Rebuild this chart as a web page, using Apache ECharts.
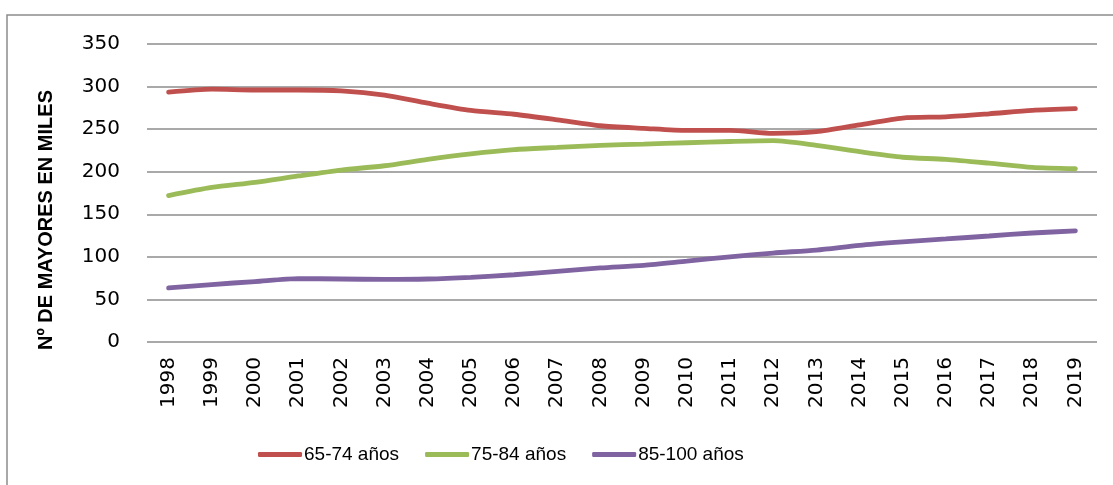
<!DOCTYPE html>
<html>
<head>
<meta charset="utf-8">
<script src="https://cdn.jsdelivr.net/npm/echarts@6/dist/echarts.min.js"></script>
<style>
  html, body { margin: 0; padding: 0; background: #fff; }
  #chart { width: 1113px; height: 485px; }
</style>
</head>
<body>
<div id="chart"></div>
<script>
// values (thousands of people)
const years = ['1998', '1999', '2000', '2001', '2002', '2003', '2004', '2005', '2006', '2007', '2008',
  '2009', '2010', '2011', '2012', '2013', '2014', '2015', '2016', '2017', '2018', '2019']
const age65to74 = [293.5, 297, 296, 296, 295, 290, 280.5, 272, 267.5, 261, 254, 251, 248.5, 248.5, 245, 247, 255, 263, 264.5, 268, 272, 274]
const age75to84 = [172, 181.5, 187.5, 195, 202, 207, 214.5, 221, 226, 228.5, 231, 232.5, 234, 235.5, 236.5, 231, 223.5, 217, 214.5, 210, 205, 203.5]
const age85to100 = [63.5, 67.5, 71, 74.5, 74, 73.5, 74, 76, 79, 83, 87, 90, 95, 100, 104.5, 108, 113.5, 117.5, 121, 124.5, 128, 130.5]
const seriesNames = ['65-74 años', '75-84 años', '85-100 años']
const yAxisTitle = 'Nº DE MAYORES EN MILES'

const AXIS_FONT = "'DejaVu Sans', sans-serif"
const LEGEND_FONT = "'Liberation Sans', Arial, sans-serif"

function line(name, data, color) {
  return {
    name,
    type: 'line',
    data,
    smooth: 0.25,
    showSymbol: false,
    symbol: 'none',
    lineStyle: { color, width: 4.8, cap: 'round' },
    itemStyle: { color },
  }
}

const chart = echarts.init(document.getElementById('chart'), null, { renderer: 'canvas' })
chart.setOption({
  animation: false,
  backgroundColor: '#fff',
  grid: { left: 147, right: 16, top: 44, bottom: 143 },
  legend: {
    left: 253, top: 440,
    icon: 'roundRect', itemWidth: 44, itemHeight: 5, itemGap: 26,
    data: seriesNames,
    textStyle: { color: '#000', fontSize: 19, fontFamily: LEGEND_FONT, padding: [0, 0, 0, -3] },
  },
  xAxis: {
    type: 'category',
    data: years,
    boundaryGap: true,
    axisLine: { show: false },
    axisTick: { show: false },
    axisLabel: { rotate: 90, margin: 15, color: '#000', fontSize: 20, fontFamily: AXIS_FONT, interval: 0 },
  },
  yAxis: {
    type: 'value',
    min: 0, max: 350, interval: 50,
    axisLine: { show: false },
    axisTick: { show: false },
    axisLabel: { margin: 27, color: '#000', fontSize: 20, fontFamily: AXIS_FONT },
    splitLine: { lineStyle: { color: '#8c8c8c', width: 1.5 } },
  },
  // outer chart frame and the rotated axis title
  graphic: [
    { type: 'rect', shape: { x: 7, y: 15, width: 1200, height: 600 }, style: { fill: 'none', stroke: '#8c8c8c', lineWidth: 1.5 }, silent: true },
    {
      type: 'text', x: 46, y: 220, rotation: Math.PI / 2,
      style: { text: yAxisTitle, font: "bold 20px 'Liberation Sans', Arial, sans-serif", fill: '#000', align: 'center', verticalAlign: 'middle' },
    },
  ],
  series: [
    line(seriesNames[0], age65to74, '#C0504D'),
    line(seriesNames[1], age75to84, '#9BBB59'),
    line(seriesNames[2], age85to100, '#8064A2'),
  ],
})
</script>
</body>
</html>
